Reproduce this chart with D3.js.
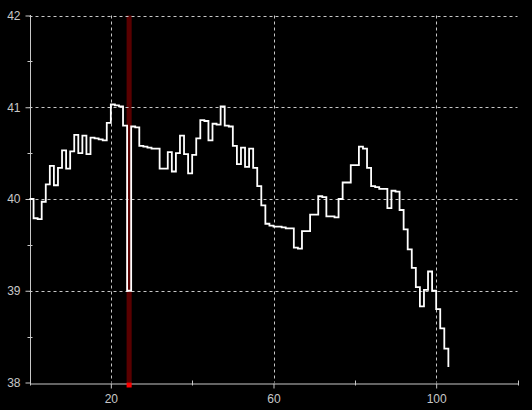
<!DOCTYPE html>
<html>
<head>
<meta charset="utf-8">
<script src="https://cdn.jsdelivr.net/npm/d3@7"></script>
<style>
  body { margin: 0; background: #000; }
  svg { display: block; }
</style>
</head>
<body>
<script>
// step series, one value per integer x (0..103)
var values = [
  40.00, 39.79, 39.78, 39.97, 40.16, 40.36, 40.15, 40.34, 40.53, 40.33,
  40.52, 40.70, 40.50, 40.69, 40.49, 40.67, 40.66, 40.65, 40.64, 40.83,
  41.03, 41.02, 41.01, 40.80, 39.00, 40.79, 40.78, 40.58, 40.57, 40.56,
  40.55, 40.55, 40.33, 40.33, 40.51, 40.30, 40.50, 40.69, 40.49, 40.28,
  40.48, 40.66, 40.86, 40.85, 40.64, 40.82, 40.81, 41.01, 40.80, 40.79,
  40.58, 40.38, 40.56, 40.35, 40.55, 40.34, 40.14, 39.93, 39.73, 39.71,
  39.70, 39.70, 39.69, 39.68, 39.68, 39.47, 39.46, 39.65, 39.65, 39.83,
  39.83, 40.03, 40.02, 39.81, 39.81, 39.80, 40.00, 40.18, 40.18, 40.37,
  40.37, 40.57, 40.55, 40.34, 40.14, 40.13, 40.11, 40.11, 39.90, 40.09,
  40.08, 39.88, 39.67, 39.45, 39.25, 39.04, 38.83, 39.01, 39.21, 39.00,
  38.80, 38.59, 38.37, 38.17
];
var xMajorTicks = [20, 60, 100];
var xMinorTicks = [40, 80, 120];
var yMajorTicks = [38, 39, 40, 41, 42];
var yMinorTicks = [38.5, 39.5, 40.5, 41.5];
var highlightX = 24; // cursor position (red band)

var width = 532, height = 410;
var axisColor = "#c8c8c8";

var svg = d3
  .select("body")
  .append("svg")
  .attr("width", width)
  .attr("height", height)
  .style("background", "#000");

var x = d3.scaleLinear().domain([0, 120]).range([29.5, 517.5]);
var y = d3.scaleLinear().domain([38, 42]).range([382.5, 15.5]);

var data = values.map(function (v, i) { return { x: i, v: v }; });

// cursor band
svg
  .append("rect")
  .attr("x", x(highlightX) - 0.5)
  .attr("y", y(42))
  .attr("width", x(highlightX + 1) - x(highlightX) + 1)
  .attr("height", y(38) - y(42))
  .style("fill", "#5a0000");

// horizontal grid (dashed)
svg
  .append("g")
  .selectAll("line")
  .data(yMajorTicks.filter(function (d) { return d !== 38; }))
  .enter()
  .append("line")
  .attr("x1", x(0))
  .attr("x2", x(120))
  .attr("y1", function (d) { return Math.round(y(d)) + 0.5; })
  .attr("y2", function (d) { return Math.round(y(d)) + 0.5; })
  .style("stroke", axisColor)
  .style("stroke-dasharray", "3,3");

// vertical grid (dashed)
svg
  .append("g")
  .selectAll("line")
  .data(xMajorTicks)
  .enter()
  .append("line")
  .attr("x1", function (d) { return Math.round(x(d)) + 0.5; })
  .attr("x2", function (d) { return Math.round(x(d)) + 0.5; })
  .attr("y1", y(42))
  .attr("y2", y(38))
  .style("stroke", axisColor)
  .style("stroke-dasharray", "3,3");

// Y axis
var yAxis = svg
  .append("g")
  .attr("transform", "translate(" + (Math.round(x(0)) + 0.5) + ",0)")
  .call(d3.axisLeft(y).tickValues(yMajorTicks).tickSize(5).tickPadding(5).tickFormat(d3.format("d")));

// y minor ticks
svg
  .append("g")
  .selectAll("line")
  .data(yMinorTicks)
  .enter()
  .append("line")
  .attr("x1", x(0) - 2)
  .attr("x2", x(0) + 3)
  .attr("y1", function (d) { return Math.round(y(d)) + 0.5; })
  .attr("y2", function (d) { return Math.round(y(d)) + 0.5; })
  .style("stroke", axisColor);

// X axis
var xAxis = svg
  .append("g")
  .attr("transform", "translate(0," + (Math.round(y(38)) + 0.5) + ")")
  .call(d3.axisBottom(x).tickValues(xMajorTicks).tickSize(5).tickPadding(6).tickSizeOuter(0));

// x minor ticks
svg
  .append("g")
  .selectAll("line")
  .data(xMinorTicks)
  .enter()
  .append("line")
  .attr("x1", function (d) { return Math.round(x(d)) + 0.5; })
  .attr("x2", function (d) { return Math.round(x(d)) + 0.5; })
  .attr("y1", y(38) - 2)
  .attr("y2", y(38) + 3)
  .style("stroke", axisColor);

// style both axes
svg.selectAll(".domain").style("stroke", axisColor);
svg.selectAll(".tick line").style("stroke", axisColor);
svg
  .selectAll(".tick text")
  .style("fill", axisColor)
  .style("font-family", "Liberation Sans, sans-serif")
  .style("font-size", "12px");
yAxis.select(".domain").attr("d", "M0," + (y(42) - 0.5) + "V" + (y(38) + 3));

// step line
var line = d3
  .line()
  .x(function (d) { return x(d.x); })
  .y(function (d) { return y(d.v); })
  .curve(d3.curveStepAfter);

svg
  .append("path")
  .datum(data)
  .attr("d", line)
  .style("fill", "none")
  .style("stroke", "#fff")
  .style("stroke-width", 1.8);

// cursor marker under the axis
svg
  .append("rect")
  .attr("x", x(highlightX) - 0.5)
  .attr("y", y(38))
  .attr("width", x(highlightX + 1) - x(highlightX) + 1)
  .attr("height", 5)
  .style("fill", "#ff0000");
</script>
</body>
</html>
